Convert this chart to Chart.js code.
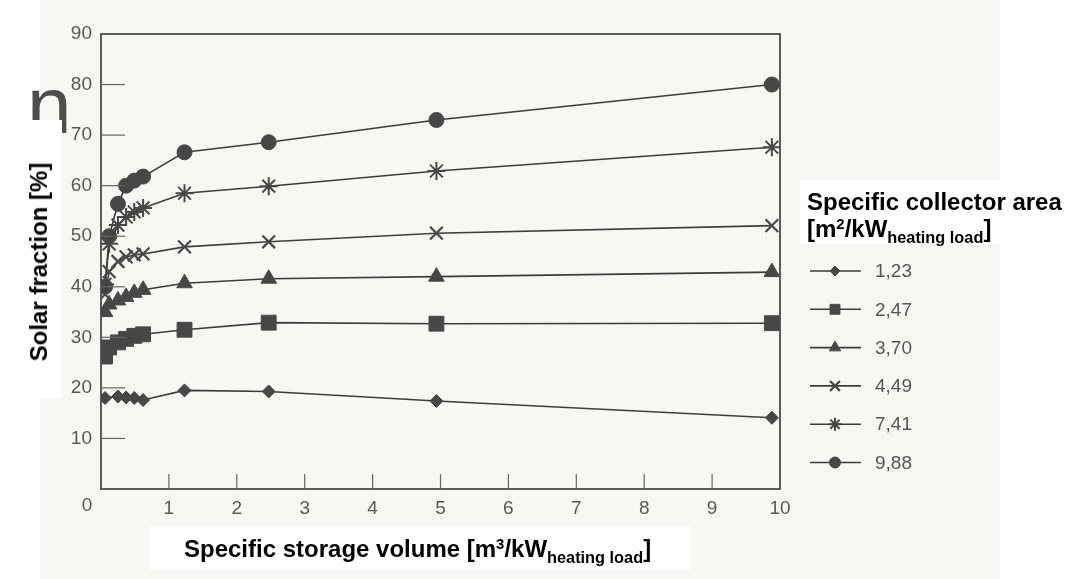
<!DOCTYPE html>
<html>
<head>
<meta charset="utf-8">
<script src="https://cdn.jsdelivr.net/npm/chart.js@4"></script>
<style>
  html, body { margin: 0; padding: 0; background: #fff; }
  #page { position: relative; width: 1073px; height: 579px; overflow: hidden; font-family: "Liberation Sans", Arial, sans-serif; }
  #scan { position: absolute; left: 40px; top: 0; width: 960px; height: 579px; background: #f7f7f4; }
  .box { position: absolute; background: #fff; }
  .title { position: absolute; font-weight: bold; color: #000; white-space: nowrap; }
  .title sub { font-size: 68%; vertical-align: -0.38em; line-height: 0; }
  .title sup { font-size: 62%; vertical-align: 0.55em; line-height: 0; }
  #glyph { position: absolute; left: 27px; top: 66px; font-size: 80px; color: #4e4e4e; line-height: 1; }
  #wrap { position: absolute; left: 0; top: 0; width: 1073px; height: 579px; }
</style>
</head>
<body>
<div id="page">
  <div id="scan"></div>
  <div id="glyph">n</div>
  <div class="box" style="left:26px; top:120px; width:36px; height:278px;"></div>
  <div class="box" style="left:150px; top:526px; width:540px; height:44px;"></div>
  <div class="box" style="left:800px; top:180px; width:273px; height:64px;"></div>
  <div id="wrap"><canvas id="chart" width="1073" height="579"></canvas></div>
  <div class="title" id="ytitle" style="left:39px; top:262px; font-size:24px; transform: translate(-50%, -50%) rotate(-90deg);">Solar fraction [%]</div>
  <div class="title" style="left:184px; top:535px; font-size:24px;">Specific storage volume [m<sup>3</sup>/kW<sub>heating load</sub>]</div>
  <div class="title" style="left:807px; top:188px; font-size:24px; line-height:27px;">Specific collector area<br>[m<sup>2</sup>/kW<sub>heating load</sub>]</div>
</div>
<script>
// storage volume on the x axis [m3/kW]
const storageVolume = [0.06, 0.12, 0.25, 0.37, 0.49, 0.62, 1.23, 2.47, 4.94, 9.88];

// solar fraction [%] per specific collector area
const area123 = [18.0, null, 18.3, 18.1, 18.0, 17.6, 19.5, 19.3, 17.4, 14.1];
const area247 = [26.2, 28.0, 29.0, 29.7, 30.3, 30.6, 31.5, 32.9, 32.7, 32.8];
const area370 = [35.0, 36.5, 37.3, 38.0, 38.8, 39.4, 40.7, 41.6, 42.0, 42.9];
const area449 = [38.5, 43.0, 45.0, 45.9, 46.3, 46.5, 47.9, 48.9, 50.6, 52.1];
const area741 = [40.5, 48.5, 52.2, 53.8, 54.8, 55.6, 58.5, 59.9, 62.9, 67.6];
const area988 = [40.0, 50.0, 56.4, 60.0, 61.0, 61.8, 66.6, 68.6, 73.0, 80.0];

const seriesLabels = ['1,23', '2,47', '3,70', '4,49', '7,41', '9,88'];
const seriesValues = [area123, area247, area370, area449, area741, area988];

const yTicks = [10, 20, 30, 40, 50, 60, 70, 80, 90];
const xTicks = [0, 1, 2, 3, 4, 5, 6, 7, 8, 9, 10];

const INK = '#3c3c3c';
const MARK = '#474747';
const TICK_TEXT = '#585858';
const TICK_FONT = '19px "Liberation Sans", Arial, sans-serif';

// marker look per series: style, radius on plot, radius in legend, stroke
const markers = [
    { style: 'rectRot',  r: 6.5, lr: 5,   bw: 1 },
    { style: 'rect',     r: 10.5, lr: 7,  bw: 1 },
    { style: 'triangle', r: 9,   lr: 6.5, bw: 1 },
    { style: 'crossRot', r: 9,   lr: 7,   bw: 2.2 },
    { style: 'star',     r: 9,   lr: 6.5, bw: 2 },
    { style: 'circle',   r: 7.5, lr: 5.5, bw: 1 }
];

const datasets = seriesValues.map((vals, i) => ({
    label: seriesLabels[i],
    data: storageVolume.map((x, j) => ({ x: x, y: vals[j] })).filter(p => p.y !== null),
    borderColor: INK,
    borderWidth: 1.6,
    backgroundColor: MARK,
    pointStyle: markers[i].style,
    pointRadius: markers[i].r,
    pointBorderWidth: markers[i].bw,
    pointBorderColor: MARK,
    pointBackgroundColor: MARK,
    tension: 0
}));

// frame + inward tick marks + origin label + hand-drawn legend
const decor = {
    id: 'decor',
    afterDraw(chart) {
        const ctx = chart.ctx;
        const a = chart.chartArea;
        const xs = chart.scales.x, ys = chart.scales.y;
        ctx.save();
        ctx.strokeStyle = '#4a4a4a';
        ctx.lineWidth = 1.8;
        ctx.strokeRect(a.left, a.top, a.right - a.left, a.bottom - a.top);

        ctx.lineWidth = 1.2;
        ctx.strokeStyle = '#666';
        yTicks.slice(0, -1).forEach(v => {
            const y = ys.getPixelForValue(v);
            ctx.beginPath();
            ctx.moveTo(a.left, y);
            ctx.lineTo(a.left + 24, y);
            ctx.stroke();
        });
        xTicks.slice(1, -1).forEach(v => {
            const x = xs.getPixelForValue(v);
            ctx.beginPath();
            ctx.moveTo(x, a.bottom);
            ctx.lineTo(x, a.bottom - 15);
            ctx.stroke();
        });

        // the origin "0" sits left of the corner in the original
        ctx.fillStyle = TICK_TEXT;
        ctx.font = TICK_FONT;
        ctx.textAlign = 'center';
        ctx.textBaseline = 'middle';
        ctx.fillText('0', xs.getPixelForValue(0) - 14, a.bottom + 17);

        // legend
        const lx0 = 810, lx1 = 861, mx = 835, tx = 875;
        chart.data.datasets.forEach((ds, i) => {
            const y = 271 + i * 38.3;
            ctx.strokeStyle = INK;
            ctx.lineWidth = 1.6;
            ctx.beginPath();
            ctx.moveTo(lx0, y);
            ctx.lineTo(lx1, y);
            ctx.stroke();
            ctx.fillStyle = MARK;
            ctx.strokeStyle = MARK;
            ctx.lineWidth = markers[i].bw;
            Chart.helpers.drawPoint(ctx, { pointStyle: markers[i].style, radius: markers[i].lr, rotation: 0, borderWidth: markers[i].bw }, mx, y);
            ctx.fillStyle = '#555';
            ctx.font = TICK_FONT;
            ctx.textBaseline = 'middle';
            ctx.textAlign = 'left';
            ctx.fillText(ds.label, tx, y + 1);
        });
        ctx.restore();
    }
};

new Chart(document.getElementById('chart'), {
    type: 'line',
    data: { datasets: datasets },
    options: {
        responsive: false,
        animation: false,
        events: [],
        layout: { padding: { left: 0, top: 34, right: 293, bottom: 0 } },
        plugins: { legend: { display: false }, tooltip: { enabled: false } },
        scales: {
            x: {
                type: 'linear',
                min: 0, max: 10,
                afterFit: s => { s.height = 90; },
                grid: { display: false, drawTicks: false },
                border: { display: false },
                ticks: {
                    stepSize: 1,
                    padding: 8,
                    color: TICK_TEXT,
                    font: { family: '"Liberation Sans", Arial, sans-serif', size: 19 },
                    callback: v => (v === 0 ? '' : String(v))
                }
            },
            y: {
                min: 0, max: 90,
                afterFit: s => { s.width = 101; },
                grid: { display: false, drawTicks: false },
                border: { display: false },
                ticks: {
                    stepSize: 10,
                    padding: 9,
                    color: TICK_TEXT,
                    font: { family: '"Liberation Sans", Arial, sans-serif', size: 19 },
                    callback: v => (v === 0 ? '' : String(v))
                }
            }
        }
    },
    plugins: [decor]
});
</script>
</body>
</html>
